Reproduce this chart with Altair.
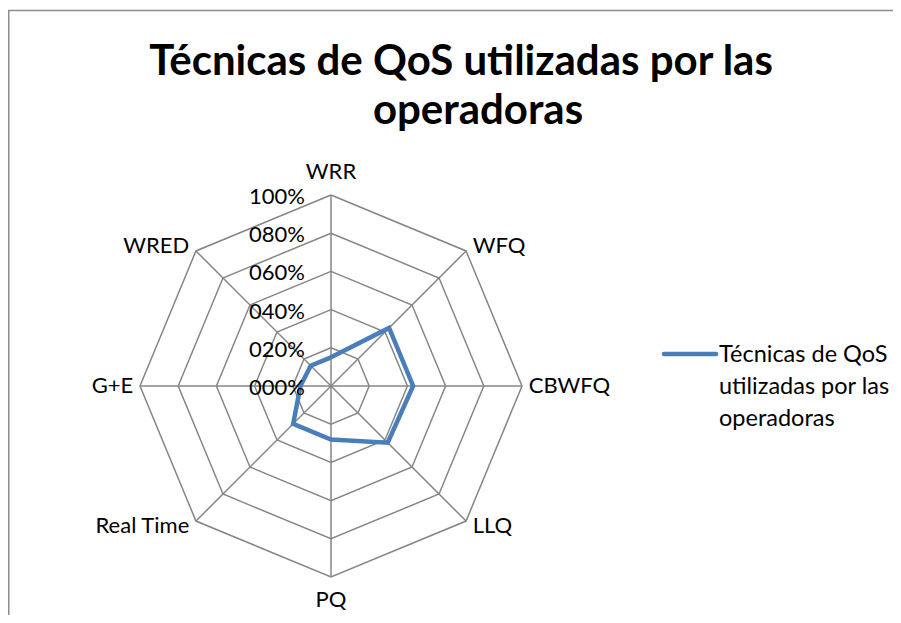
import altair as alt
import pandas as pd

# ---- data ----
categories = ["WRR", "WFQ", "CBWFQ", "LLQ", "PQ", "Real Time", "G+E", "WRED"]
values = [0.15, 0.43, 0.43, 0.42, 0.28, 0.28, 0.16, 0.15]
ring_levels = [0.2, 0.4, 0.6, 0.8, 1.0]
tick_levels = [0.0, 0.2, 0.4, 0.6, 0.8, 1.0]
tick_labels = ["000%", "020%", "040%", "060%", "080%", "100%"]
title_lines = ["Técnicas de QoS utilizadas por las", "operadoras"]
legend_lines = ["Técnicas de QoS", "utilizadas por las", "operadoras"]

FONT = "Lato"
GRID = "#868686"
BLUE = "#4A7EBB"

N = len(categories)
W, H = 885, 607
x_scale = alt.Scale(domain=[-1.6911, 2.9424], nice=False, zero=False)
y_scale = alt.Scale(domain=[-1.1990, 1.9791], nice=False, zero=False)

ANG = f"datum.idx * 2 * PI / {N}"


def polar(ch):
    return (ch.transform_calculate(ang=ANG)
              .transform_calculate(px="datum.r * sin(datum.ang)",
                                   py="datum.r * cos(datum.ang)",
                                   cx="0", cy="0"))


# series polygon (closed)
series_df = pd.DataFrame({
    "idx": list(range(N + 1)),
    "r": [values[i % N] for i in range(N + 1)],
})

# rings
ring_rows = []
for lv in ring_levels:
    for i in range(N + 1):
        ring_rows.append({"level": lv, "idx": i, "r": lv})
ring_df = pd.DataFrame(ring_rows)

spoke_df = pd.DataFrame({"idx": list(range(N)), "r": [1.0] * N})
cat_df = pd.DataFrame({"idx": list(range(N)), "cat": categories, "r": [1.0] * N})
tick_df = pd.DataFrame({"lvl": tick_levels, "lab": tick_labels})
one = pd.DataFrame({"k": [0]})

X = lambda f: alt.X(f, scale=x_scale, axis=None)
Y = lambda f: alt.Y(f, scale=y_scale, axis=None)

rings = polar(alt.Chart(ring_df)).mark_line(color=GRID, strokeWidth=1.5).encode(
    x=X("px:Q"), y=Y("py:Q"), detail="level:N", order="idx:Q")

spokes = polar(alt.Chart(spoke_df)).mark_rule(color=GRID, strokeWidth=1.5).encode(
    x=X("cx:Q"), y=Y("cy:Q"), x2="px:Q", y2="py:Q")

series = polar(alt.Chart(series_df)).mark_line(
    color=BLUE, strokeWidth=4.5, strokeJoin="miter").encode(
    x=X("px:Q"), y=Y("py:Q"), order="idx:Q")

cat_base = polar(alt.Chart(cat_df)).transform_calculate(
    s="sin(datum.ang)", c="cos(datum.ang)").transform_calculate(
    lx="datum.s + (datum.s > 0.01 ? 0.035 : (datum.s < -0.01 ? -0.035 : 0))",
    ly="datum.c + (abs(datum.s) < 0.01 ? datum.c * 0.12 : datum.c * 0.035)")

cat_kw = dict(font=FONT, fontSize=22, color="black", baseline="middle")
cat_left = cat_base.transform_filter("datum.s > 0.01").mark_text(align="left", **cat_kw).encode(
    x=X("lx:Q"), y=Y("ly:Q"), text="cat:N")
cat_right = cat_base.transform_filter("datum.s < -0.01").mark_text(align="right", **cat_kw).encode(
    x=X("lx:Q"), y=Y("ly:Q"), text="cat:N")
cat_mid = cat_base.transform_filter("abs(datum.s) <= 0.01").mark_text(align="center", **cat_kw).encode(
    x=X("lx:Q"), y=Y("ly:Q"), text="cat:N")

ticks = alt.Chart(tick_df).transform_calculate(cx="0").mark_text(
    font=FONT, fontSize=22, color="black", align="right", baseline="middle", dx=-26, dy=2).encode(
    x=X("cx:Q"), y=Y("lvl:Q"), text="lab:N")

# legend (manual)
leg_line = alt.Chart(one).mark_rule(color=BLUE, strokeWidth=4.5, strokeCap="round").encode(
    x=alt.value(656), x2=alt.value(708), y=alt.value(346))
leg_text = alt.Chart(one).mark_text(
    text=legend_lines, font=FONT, fontSize=23.5, color="black", align="left",
    baseline="alphabetic", lineHeight=32).encode(x=alt.value(711), y=alt.value(354))

# title (manual, two lines)
t1 = alt.Chart(one).mark_text(text=title_lines[0], font=FONT, fontSize=42, fontWeight="bold",
                              color="black", align="center", baseline="alphabetic").encode(
    x=alt.value(453), y=alt.value(67))
t2 = alt.Chart(one).mark_text(text=title_lines[1], font=FONT, fontSize=42, fontWeight="bold",
                              color="black", align="center", baseline="alphabetic").encode(
    x=alt.value(470), y=alt.value(116))

# chart-area border (top and left)
b_top = alt.Chart(one).mark_rule(color="#8c8c8c", strokeWidth=1.5).encode(
    x=alt.value(0), x2=alt.value(W), y=alt.value(2.5))
b_left = alt.Chart(one).mark_rule(color="#8c8c8c", strokeWidth=1.5).encode(
    x=alt.value(0.75), y=alt.value(2), y2=alt.value(H))

chart = alt.layer(
    b_top, b_left, rings, spokes, series, cat_left, cat_right, cat_mid, ticks,
    leg_line, leg_text, t1, t2
).properties(
    width=W, height=H, padding=0,
    autosize=alt.AutoSizeParams(type="none")
).configure_view(stroke=None)

chart.save("out.html", embed_options={"renderer": "svg", "actions": False})
